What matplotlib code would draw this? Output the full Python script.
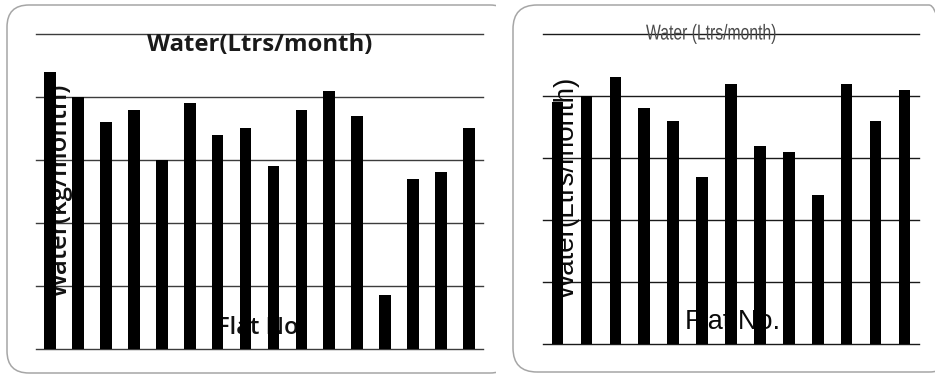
import matplotlib
matplotlib.use("Agg")
import matplotlib.pyplot as plt
import matplotlib.patheffects as pe
from matplotlib.patches import FancyBboxPatch, Rectangle
from matplotlib.transforms import IdentityTransform, Affine2D

# values (gridline units, no tick labels in the original)
left_flats = list(range(1, 17))
left_water = [4.4, 4.0, 3.6, 3.8, 3.0, 3.9, 3.4, 3.5, 2.9, 3.8, 4.1, 3.7, 0.85, 2.7, 2.8, 3.5]
right_flats = list(range(1, 14))
right_water = [3.9, 4.0, 4.3, 3.8, 3.6, 2.7, 4.2, 3.2, 3.1, 2.4, 4.2, 3.6, 4.1]
grid_ticks = [0, 1, 2, 3, 4, 5]

W, H = 935, 376
fig = plt.figure(figsize=(W / 100, H / 100), dpi=100)


class Squeeze(pe.AbstractPathEffect):
    # narrows text horizontally around pixel column cx (no narrow font installed)
    def __init__(self, sx, cx):
        super().__init__()
        self.sx = sx
        self.cx = cx

    def draw_path(self, renderer, gc, tpath, affine, rgbFace=None):
        squeeze = Affine2D().translate(-self.cx, 0).scale(self.sx, 1).translate(self.cx, 0)
        renderer.draw_path(gc, tpath, affine + squeeze, rgbFace)


# rounded frames (pixel coordinates), drawn behind the axes
left_box = FancyBboxPatch((7, 3), 505, 368, boxstyle="round,pad=0,rounding_size=22",
                          transform=IdentityTransform(), fc="none", ec="#a6a6a6", lw=1.1,
                          zorder=-1)
left_box.set_clip_path(Rectangle((0, 0), 496, H, transform=IdentityTransform()))
fig.patches.append(left_box)
right_box = FancyBboxPatch((513, 4), 440, 367, boxstyle="round,pad=0,rounding_size=24",
                           transform=IdentityTransform(), fc="none", ec="#a6a6a6", lw=1.1,
                           zorder=-1)
fig.patches.append(right_box)


def setup(ax, n, grid_color):
    ax.set_xlim(0.5, n + 0.5)
    ax.set_ylim(0, 5)
    ax.set_yticks(grid_ticks)
    ax.set_xticks([])
    ax.tick_params(length=0, labelleft=False)
    for s in ax.spines.values():
        s.set_visible(False)
    ax.patch.set_alpha(0)
    for t in grid_ticks:
        ax.axhline(t, color=grid_color, lw=1.0, zorder=0.5, clip_on=False)


# left chart
ax1 = fig.add_axes([36 / W, 1 - 348.7 / H, 447 / W, 314.7 / H])
setup(ax1, len(left_flats), "#3c3c3c")
ax1.bar(left_flats, left_water, width=0.42, color="black", zorder=2)
ax1.text(0.5, 1.003, "Water(Ltrs/month)", transform=ax1.transAxes, ha="center", va="top",
         fontsize=17.2, fontweight="bold", family="Open Sans", color="#1a1a1a", zorder=3)
ax1.text(0.054, 0.504, "Water(kg/month)", transform=ax1.transAxes, ha="center", va="center",
         rotation=90, fontsize=18.5, fontweight="semibold", family="Open Sans",
         color="#111111", zorder=1)
ax1.text(0.497, 0.065, "Flat No", transform=ax1.transAxes, ha="center", va="center",
         fontsize=17, fontweight="semibold", family="Open Sans", color="#111111", zorder=1)

# right chart
ax2 = fig.add_axes([543 / W, 1 - 344 / H, 376 / W, 310 / H])
setup(ax2, len(right_flats), "#1a1a1a")
ax2.bar(right_flats, right_water, width=0.40, color="black", zorder=2)
title_x = 0.447
ax2.text(title_x, 1.0, "Water (Ltrs/month)", transform=ax2.transAxes, ha="center", va="center",
         fontsize=15.5, family="Liberation Sans", color="#4a4a4a", zorder=3,
         path_effects=[Squeeze(0.73, 543 + title_x * 376)])
ax2.text(0.064, 0.503, "Water(Ltrs/month)", transform=ax2.transAxes, ha="center", va="center",
         rotation=90, fontsize=20, family="Liberation Sans", color="#0a0a0a", zorder=1)
ax2.text(0.505, 0.072, "Flat No.", transform=ax2.transAxes, ha="center", va="center",
         fontsize=19.5, family="Liberation Sans", color="#0a0a0a", zorder=1)

fig.savefig("out.png", dpi=100)
